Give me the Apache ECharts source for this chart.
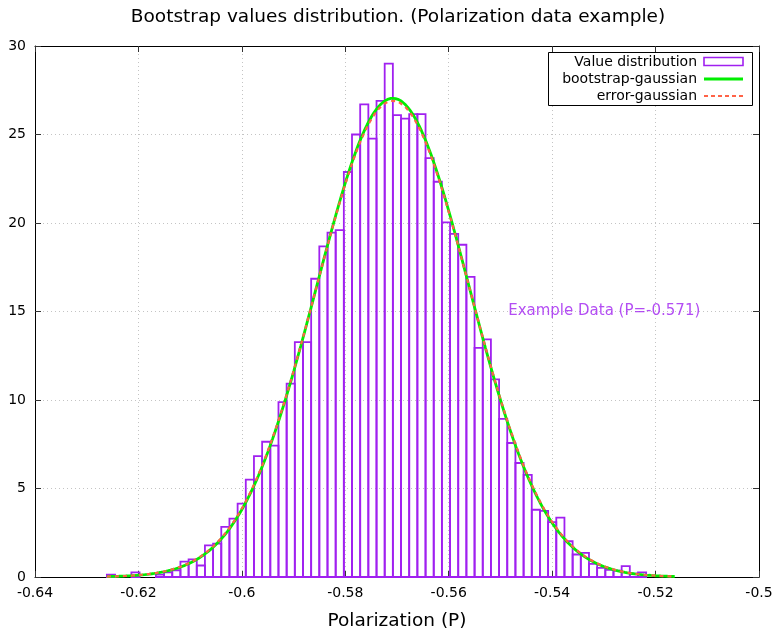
<!DOCTYPE html>
<html>
<head>
<meta charset="utf-8">
<script src="https://cdn.jsdelivr.net/npm/echarts@6/dist/echarts.min.js"></script>
<style>
  html, body { margin: 0; padding: 0; background: #ffffff; }
  #chart { width: 774px; height: 629px; }
</style>
</head>
<body>
<div id="chart"></div>
<script>
// ---- Bootstrap histogram (normalised density per bin) ----
const binStart = -0.6261;
const binWidth = 0.00158;
const binDensity = [
  0.13, 0, 0, 0.26, 0, 0, 0.13, 0.26, 0.38, 0.87,
  1.0, 0.65, 1.79, 1.88, 2.83, 3.3, 4.14, 5.5, 6.83, 7.64,
  7.42, 9.88, 10.92, 13.27, 13.27, 16.85, 18.68, 19.46, 19.6, 22.88,
  25.0, 26.7, 24.77, 26.9, 29.0, 26.1, 25.9, 26.15, 26.15, 23.66,
  22.33, 20.04, 19.38, 18.77, 16.96, 12.95, 13.42, 11.16, 8.93, 7.57,
  6.44, 5.77, 3.8, 3.74, 3.1, 3.35, 2.02, 1.27, 1.36, 0.74,
  0.52, 0.4, 0.36, 0.62, 0.19, 0.26, 0, 0, 0, 0
];

// ---- Gaussian models (mean, sigma) over the sampled range ----
const bootstrapMean = -0.5708;
const bootstrapSigma = 0.01475;
const errorMean = -0.5708;
const errorSigma = 0.01483;
const sampleRange = [-0.6261, -0.5163];
const curveSteps = 240;

// ---- Axes ----
const xMin = -0.64, xMax = -0.5, xStep = 0.02;
const yMin = 0, yMax = 30, yStep = 5;

// ---- Texts ----
const titleText = 'Bootstrap values distribution. (Polarization data example)';
const xName = 'Polarization (P)';
const seriesNames = ['Value distribution', 'bootstrap-gaussian', 'error-gaussian'];
const noteText = 'Example Data (P=-0.571)';
const notePos = [-0.5485, 15];

const PURPLE = '#a020f0';
const GREEN = '#00ee00';
const ORANGE = '#ff6347';
const FONT = 'DejaVu Sans';

function gaussianCurve(mu, sigma) {
  const pts = [];
  const norm = 1 / (sigma * Math.sqrt(2 * Math.PI));
  for (let i = 0; i <= curveSteps; i++) {
    const x = sampleRange[0] + (sampleRange[1] - sampleRange[0]) * i / curveSteps;
    const z = (x - mu) / sigma;
    pts.push([x, norm * Math.exp(-0.5 * z * z)]);
  }
  return pts;
}

const histData = binDensity.map((h, i) => [binStart + i * binWidth, binStart + (i + 1) * binWidth, h]);

const chart = echarts.init(document.getElementById('chart'), null, { renderer: 'canvas' });

const tickFmt = v => String(parseFloat(v.toFixed(4)));

const gridLine = { show: true, lineStyle: { color: '#c4c4c4', width: 1, type: [1, 3] } };
const frameLine = { show: true, onZero: false, lineStyle: { color: '#000', width: 1 } };
const innerTick = { show: true, inside: true, length: 6, lineStyle: { color: '#333', width: 1 } };

chart.setOption({
  animation: false,
  backgroundColor: '#ffffff',
  grid: { left: 35, right: 15, top: 46, bottom: 52, containLabel: false, outerBoundsMode: 'none' },
  xAxis: [
    {
      type: 'value', min: xMin, max: xMax, interval: xStep, position: 'bottom',
      axisLine: frameLine, axisTick: innerTick,
      axisLabel: { formatter: tickFmt, fontSize: 14, color: '#000', margin: 9, fontFamily: FONT, showMinLabel: true, showMaxLabel: true },
      splitLine: gridLine,
      name: xName, nameLocation: 'middle', nameGap: 35,
      nameTextStyle: { fontSize: 18.5, color: '#000', fontFamily: FONT }
    },
    {
      type: 'value', min: xMin, max: xMax, interval: xStep, position: 'top',
      axisLine: frameLine, axisTick: innerTick, axisLabel: { show: false }, splitLine: { show: false }
    }
  ],
  yAxis: [
    {
      type: 'value', min: yMin, max: yMax, interval: yStep, position: 'left',
      axisLine: frameLine, axisTick: innerTick,
      axisLabel: { fontSize: 14, color: '#000', margin: 9, fontFamily: FONT },
      splitLine: gridLine
    },
    {
      type: 'value', min: yMin, max: yMax, interval: yStep, position: 'right',
      axisLine: frameLine, axisTick: innerTick, axisLabel: { show: false }, splitLine: { show: false }
    }
  ],
  series: [
    {
      name: seriesNames[0],
      type: 'custom',
      xAxisIndex: 0, yAxisIndex: 0,
      data: histData,
      encode: { x: [0, 1], y: 2 },
      z: 2,
      renderItem: function (params, api) {
        const h = api.value(2);
        if (!h) return null;
        const p0 = api.coord([api.value(0), h]);
        const p1 = api.coord([api.value(1), 0]);
        return {
          type: 'rect',
          shape: { x: p0[0], y: p0[1], width: p1[0] - p0[0], height: p1[1] - p0[1] },
          style: { fill: null, stroke: PURPLE, lineWidth: 1.8 }
        };
      }
    },
    {
      name: seriesNames[1],
      type: 'line',
      data: gaussianCurve(bootstrapMean, bootstrapSigma),
      symbol: 'none', smooth: false, z: 3,
      lineStyle: { color: GREEN, width: 2.8 }
    },
    {
      name: seriesNames[2],
      type: 'line',
      data: gaussianCurve(errorMean, errorSigma),
      symbol: 'none', smooth: false, z: 4,
      lineStyle: { color: ORANGE, width: 2.2, type: [4, 4] }
    },
    {
      type: 'scatter',
      data: [notePos],
      symbolSize: 0,
      z: 5,
      label: {
        show: true, position: 'right', distance: 0,
        formatter: noteText, color: PURPLE, fontSize: 15, fontFamily: FONT
      }
    }
  ],
  graphic: [
    {
      type: 'text', z: 10,
      style: { text: titleText, x: 398, y: 17, textAlign: 'center', textVerticalAlign: 'middle', font: '18.5px "DejaVu Sans"', fill: '#000' }
    },
    // key box
    {
      type: 'rect', z: 10,
      shape: { x: 548.5, y: 52.5, width: 204, height: 53 },
      style: { fill: '#fff', stroke: '#000', lineWidth: 1 }
    },
    {
      type: 'text', z: 11,
      style: { text: seriesNames[0], x: 697, y: 62, textAlign: 'right', textVerticalAlign: 'middle', font: '14px "DejaVu Sans"', fill: '#000' }
    },
    {
      type: 'text', z: 11,
      style: { text: seriesNames[1], x: 697, y: 79, textAlign: 'right', textVerticalAlign: 'middle', font: '14px "DejaVu Sans"', fill: '#000' }
    },
    {
      type: 'text', z: 11,
      style: { text: seriesNames[2], x: 697, y: 96, textAlign: 'right', textVerticalAlign: 'middle', font: '14px "DejaVu Sans"', fill: '#000' }
    },
    {
      type: 'rect', z: 11,
      shape: { x: 704, y: 57.5, width: 39, height: 8 },
      style: { fill: null, stroke: PURPLE, lineWidth: 1.6 }
    },
    {
      type: 'line', z: 11,
      shape: { x1: 704, y1: 79, x2: 743, y2: 79 },
      style: { stroke: GREEN, lineWidth: 2.8 }
    },
    {
      type: 'line', z: 11,
      shape: { x1: 704, y1: 96, x2: 743, y2: 96 },
      style: { stroke: ORANGE, lineWidth: 2, lineDash: [4, 3] }
    }
  ]
});
</script>
</body>
</html>
